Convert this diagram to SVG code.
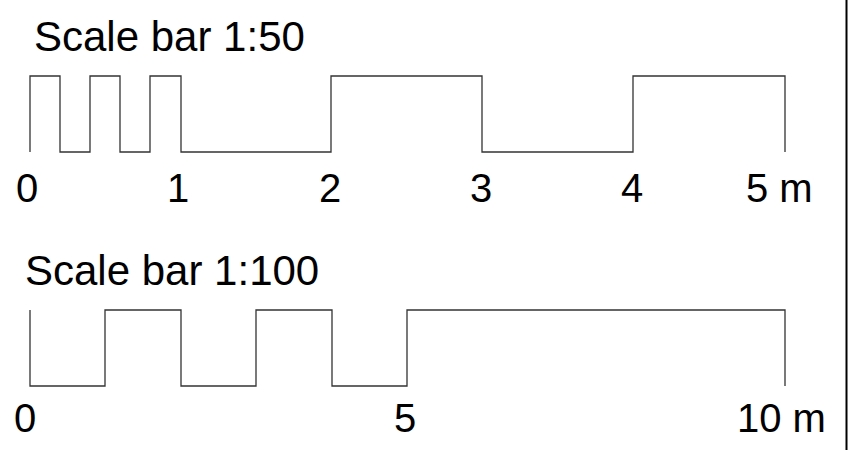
<svg xmlns="http://www.w3.org/2000/svg" width="854" height="450" viewBox="0 0 854 450">
<style>
.t{font-family:"Liberation Sans",Arial,sans-serif;font-size:40px;fill:#000}
.h{font-size:42px}
.bar{fill:none;stroke:#333;stroke-width:1.3;stroke-linejoin:miter}
</style>
<rect width="854" height="450" fill="#fff"/>
<g id="border"><line x1="846.5" y1="0" x2="846.5" y2="450" stroke="#000" stroke-width="2"/></g>
<g id="scale50">
<text class="t h" x="34" y="51">Scale bar 1:50</text>
<path class="bar" d="M30,152 V76 H60 V152 H90 V76 H120 V152 H150 V76 H181 V152 H331 V76 H482 V152 H633 V76 H785 V152"/>
<text class="t" x="16" y="202">0</text>
<text class="t" x="167" y="202">1</text>
<text class="t" x="319" y="202">2</text>
<text class="t" x="470" y="202">3</text>
<text class="t" x="621" y="202">4</text>
<text class="t" x="746" y="202">5 m</text>
</g>
<g id="scale100">
<text class="t h" x="25" y="285">Scale bar 1:100</text>
<path class="bar" d="M30,310 V386 H105 V310 H181 V386 H256 V310 H332 V386 H407 V310 H785 V386"/>
<text class="t" x="14" y="432">0</text>
<text class="t" x="394" y="432">5</text>
<text class="t" x="737" y="432">10 m</text>
</g>
</svg>
